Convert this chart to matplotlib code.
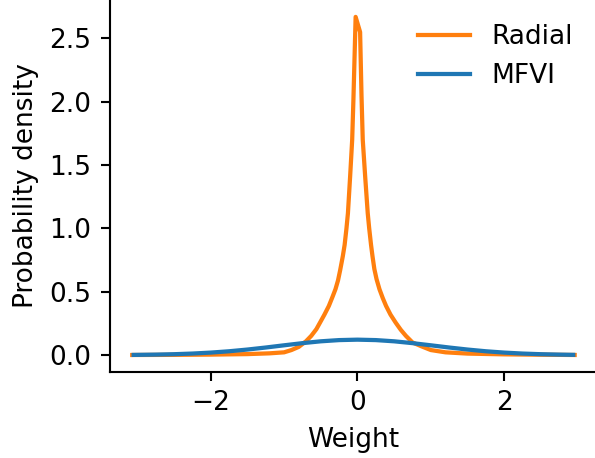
import matplotlib
matplotlib.use("Agg")
import matplotlib.pyplot as plt

# Radial posterior density
radial_x = [-3.07, -2.5, -2.0, -1.5, -1.2, -1.0, -0.9, -0.8, -0.7, -0.63, -0.56, -0.51,
            -0.45, -0.39, -0.34, -0.30, -0.265, -0.236, -0.2, -0.175, -0.15, -0.13, -0.10,
            -0.072, -0.055, -0.025,
            0.036, 0.055, 0.072, 0.105, 0.14, 0.16, 0.185, 0.205, 0.23, 0.26, 0.30, 0.345,
            0.39, 0.45, 0.52, 0.59, 0.66, 0.75, 0.87, 1.0, 1.2, 1.5, 2.0, 2.5, 2.96]
radial_y = [0.001, 0.002, 0.004, 0.008, 0.014, 0.022, 0.04, 0.065, 0.11, 0.152, 0.205, 0.257,
            0.32, 0.388, 0.46, 0.52, 0.59, 0.67, 0.78, 0.87, 1.0, 1.12, 1.41,
            1.70, 2.02, 2.67,
            2.55, 2.05, 1.70, 1.41, 1.12, 1.0, 0.87, 0.78, 0.68, 0.60, 0.52, 0.45,
            0.388, 0.32, 0.257, 0.20, 0.152, 0.10, 0.07, 0.04, 0.022, 0.012, 0.006, 0.003, 0.001]

# MFVI posterior density
mfvi_x = [-3.05, -2.75, -2.5, -2.25, -2.0, -1.75, -1.5, -1.25, -1.0, -0.75, -0.5, -0.25, 0.0,
          0.25, 0.5, 0.75, 1.0, 1.25, 1.5, 1.75, 2.0, 2.25, 2.5, 2.75, 2.94]
mfvi_y = [0.0017, 0.004, 0.0072, 0.0123, 0.0199, 0.0304, 0.044, 0.060, 0.0775, 0.0945, 0.109,
          0.1186, 0.122, 0.1186, 0.109, 0.0945, 0.0775, 0.060, 0.044, 0.0304, 0.0199, 0.0123,
          0.0072, 0.004, 0.0022]

fig = plt.figure(figsize=(595 / 190, 458 / 190), dpi=190)
ax = fig.add_axes([0.185, 0.188, 0.818, 0.812])
ax.plot(radial_x, radial_y, color="#ff7f0e", label="Radial", lw=1.6)
ax.plot(mfvi_x, mfvi_y, color="#1f77b4", label="MFVI", lw=1.6)
ax.set_xlabel("Weight")
ax.set_ylabel("Probability density")
ax.spines["top"].set_visible(False)
ax.spines["right"].set_visible(False)
ax.legend(frameon=False, loc="upper right")
fig.savefig("out.png", dpi=190)
